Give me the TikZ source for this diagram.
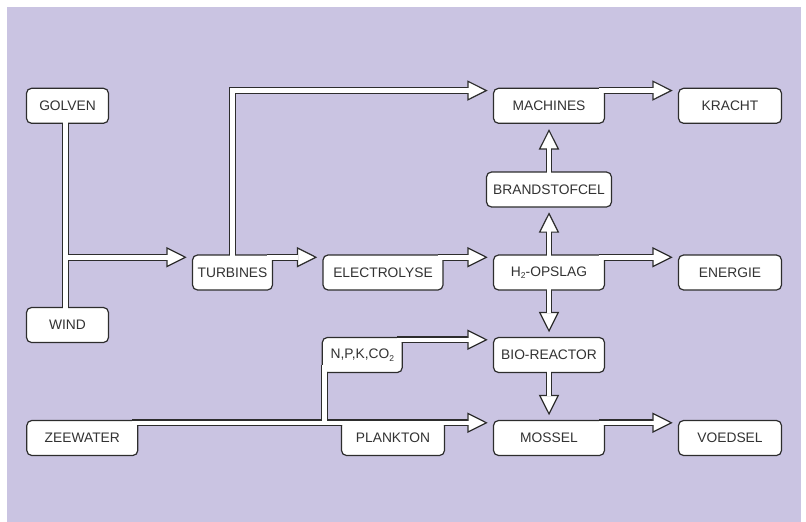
\documentclass[tikz,border=0pt]{standalone}
\usepackage{fontspec}
\setmainfont{Liberation Sans}
\usetikzlibrary{calc}
\pgfdeclarelayer{bg}
\pgfdeclarelayer{outer}
\pgfdeclarelayer{core}
\pgfsetlayers{bg,outer,main,core}
\definecolor{bgc}{RGB}{202,196,226}
\definecolor{ink}{RGB}{45,45,45}
\definecolor{txt}{RGB}{50,50,50}
\newcommand\lowtwo{\raisebox{-2.5pt}{\fontsize{8.5}{8.5}\selectfont 2}}
\tikzset{
  box/.style={draw=ink, line width=1.2pt, fill=white, rounded corners=5pt,
    inner sep=0pt, text=txt, font=\fontsize{13.8}{16}\selectfont},
  shout/.style={draw=ink, line width=6.9pt},
  shin/.style={draw=white, line width=4.5pt},
  pics/head/.style={code={\draw[ink, fill=white, line width=1.2pt, line join=miter]
      (-18.5,9.3) -- (0,0) -- (-18.5,-9.3) -- cycle;}}
}
\newcommand\fatline[1]{%
  \begin{pgfonlayer}{outer}\draw[shout] #1;\end{pgfonlayer}%
  \begin{pgfonlayer}{core}\draw[shin] #1;\end{pgfonlayer}}
\newcommand\fatto[3]{%
  \begin{pgfonlayer}{outer}\draw[shout, shorten >=18.5pt] #1;\end{pgfonlayer}%
  \begin{pgfonlayer}{core}\draw[shin, shorten >=17.7pt] #1;\end{pgfonlayer}%
  \pic[rotate=#3] at #2 {head};}
\begin{document}
\begin{tikzpicture}[x=1pt,y=-1pt]
\useasboundingbox (0,0) rectangle (806,522);
\begin{pgfonlayer}{bg}
\fill[bgc] (7,7) rectangle (801,522);
\end{pgfonlayer}
% boxes
\node[box, minimum width=82pt, minimum height=35pt] (golven) at (67.5,105.8) {GOLVEN};
\node[box, minimum width=82pt, minimum height=35pt] (wind) at (67.5,325) {WIND};
\node[box, minimum width=80pt, minimum height=35pt] (turb) at (232.5,272.5) {TURBINES};
\node[box, minimum width=120pt, minimum height=35pt] (elec) at (383,272.5) {ELECTROLYSE};
\node[box, minimum width=111pt, minimum height=35pt] (h2) at (549,272.5) {H\lowtwo-OPSLAG};
\node[box, minimum width=103pt, minimum height=35pt] (energie) at (730,272.5) {ENERGIE};
\node[box, minimum width=111pt, minimum height=35pt] (mach) at (549,105.8) {MACHINES};
\node[box, minimum width=103pt, minimum height=35pt] (kracht) at (730,105.8) {KRACHT};
\node[box, minimum width=125pt, minimum height=35pt] (brand) at (549,189.5) {BRANDSTOFCEL};
\node[box, minimum width=80pt, minimum height=35pt] (npk) at (362.3,355) {N,P,K,CO\lowtwo};
\node[box, minimum width=111pt, minimum height=35pt] (bio) at (549,355) {BIO-REACTOR};
\node[box, minimum width=111pt, minimum height=35pt] (zee) at (82.3,438) {ZEEWATER};
\node[box, minimum width=103pt, minimum height=35pt] (plank) at (393,438) {PLANKTON};
\node[box, minimum width=111pt, minimum height=35pt] (mossel) at (549,438) {MOSSEL};
\node[box, minimum width=103pt, minimum height=35pt] (voedsel) at (730,438) {VOEDSEL};
% tip coordinates
\coordinate (tT) at ($(turb.north west)+(-6.5,2.85)$);
\coordinate (tM) at ($(mach.north west)+(-6.5,2.85)$);
\coordinate (tE) at ($(elec.north west)+(-6.5,2.85)$);
\coordinate (tH) at ($(h2.north west)+(-6.5,2.85)$);
\coordinate (tN) at ($(energie.north west)+(-6.5,2.85)$);
\coordinate (tK) at ($(kracht.north west)+(-6.5,2.85)$);
\coordinate (tB) at ($(brand.south)+(0,6)$);
\coordinate (tMa) at ($(mach.south)+(0,6.5)$);
\coordinate (tBi) at ($(bio.north)+(0,-6)$);
\coordinate (tMo) at ($(mossel.north)+(0,-6)$);
\coordinate (tMs) at ($(mossel.north west)+(-6.5,2.85)$);
\coordinate (tBr) at ($(bio.north west)+(-6.5,2.85)$);
\coordinate (jw) at ($(golven.south)+(-2.2,0)$);
\coordinate (nb) at ($(npk.south west)+(2.85,-8)$);
% connectors
\fatline{($(golven.south)+(-2.2,-5)$) -- ($(wind.north)+(-2.2,5)$)}
\fatto{(jw |- tT) -- (tT)}{(tT)}{0}
\fatto{($(turb.north)+(0,4)$) |- (tM)}{(tM)}{0}
\fatto{($(turb.north east)+(-6,2.85)$) -- (tE)}{(tE)}{0}
\fatto{($(elec.north east)+(-6,2.85)$) -- (tH)}{(tH)}{0}
\fatto{($(h2.north east)+(-6,2.85)$) -- (tN)}{(tN)}{0}
\fatto{($(mach.north east)+(-6,2.85)$) -- (tK)}{(tK)}{0}
\fatto{($(h2.north)+(0,4)$) -- (tB)}{(tB)}{90}
\fatto{($(brand.north)+(0,4)$) -- (tMa)}{(tMa)}{90}
\fatto{($(h2.south)+(0,-4)$) -- (tBi)}{(tBi)}{-90}
\fatto{($(bio.south)+(0,-4)$) -- (tMo)}{(tMo)}{-90}
\fatto{($(zee.north east)+(-6,2.85)$) -- (tMs)}{(tMs)}{0}
\fatline{(nb |- tMs) -- (nb)}
\fatto{($(npk.north east)+(-6,2.85)$) -- (tBr)}{(tBr)}{0}
\fatto{($(mossel.north east)+(-6,2.85)$) -- ($(voedsel.north west)+(-6.5,2.85)$)}{($(voedsel.north west)+(-6.5,2.85)$)}{0}
\end{tikzpicture}
\end{document}
